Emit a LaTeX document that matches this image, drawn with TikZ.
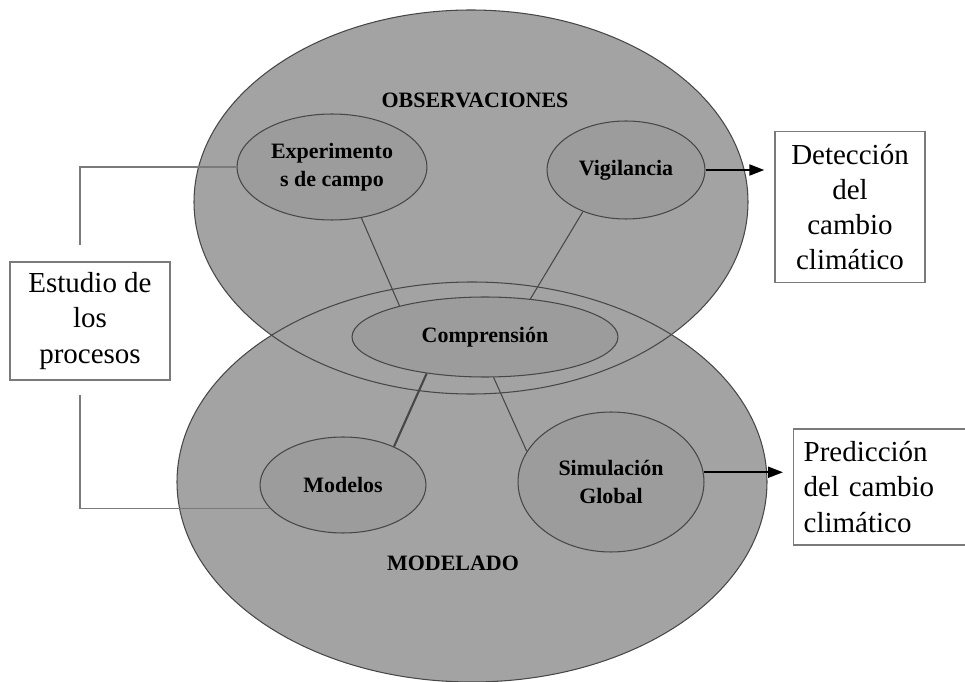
\documentclass[tikz,border=0pt]{standalone}
\usepackage{fontspec}
\setmainfont{Liberation Serif}
\usepackage{xcolor}
\usetikzlibrary{positioning, shapes.geometric, arrows.meta}

\definecolor{areagray}{HTML}{A3A3A3}
\definecolor{bubblegray}{HTML}{9C9C9C}
\definecolor{edgegray}{HTML}{474747}
\definecolor{boxgray}{HTML}{7A7A7A}

\tikzset{
    bubble/.style={ellipse, draw=edgegray, fill=bubblegray, line width=0.6pt, inner sep=0pt,
        align=center, font=\fontsize{12.5}{16}\selectfont\bfseries},
    title/.style={font=\fontsize{12.5}{16}\selectfont\bfseries},
    textbox/.style={draw=boxgray, line width=0.8pt, fill=white, inner sep=0pt,
        font=\fontsize{16.5}{20}\selectfont},
    link/.style={draw=edgegray, line width=0.6pt},
    bracket/.style={draw=boxgray, line width=0.8pt},
    arr/.style={-{Triangle[length=0.3cm,width=0.22cm]}, line width=1.2pt, shorten >=0.2cm}
}

\begin{document}
\begin{tikzpicture}[x=0.02cm, y=-0.02cm]
    \clip (0,0) rectangle (965,682);
    % the two big areas, their overlap makes the ring
    \fill[areagray] (471,202) ellipse [x radius=277, y radius=192];
    \fill[areagray] (472,482) ellipse [x radius=295, y radius=200];
    \draw[edgegray, line width=0.6pt] (471,202) ellipse [x radius=277, y radius=192];
    \draw[edgegray, line width=0.6pt] (472,482) ellipse [x radius=295, y radius=200];
    \node[title] (obsl) at (475,100) {OBSERVACIONES};
    \node[title] (modl) at (453,563) {MODELADO};
    % inner bubbles
    \node[bubble, minimum width=3.8cm, minimum height=2.12cm] (exp) at (332,167) {Experimento\\s de campo};
    \node[bubble, minimum width=3.16cm, minimum height=1.96cm] (vig) at (626,170) {Vigilancia};
    \node[bubble, minimum width=5.32cm, minimum height=1.6cm] (comp) at (485,337) {Comprensión};
    \node[bubble, minimum width=3.32cm, minimum height=1.92cm] (mod) at (343,485) {Modelos};
    \node[bubble, minimum width=3.72cm, minimum height=2.8cm] (sim) at (611,482) {Simulación\\Global};
    \draw[link] (exp.300) -- (comp.160);
    \draw[link] (vig.224) -- (comp.40);
    \draw[link, line width=1.2pt] (comp.212) -- (mod.37);
    \draw[link] (comp.282) -- (sim.160);
    % boxes
    \node[textbox, align=center, minimum width=3.2cm, minimum height=2.36cm] (proc) at (90,321) {Estudio de\\los\\procesos};
    \node[textbox, align=center, minimum width=3cm, minimum height=3.02cm] (det) at (850,207) {Detección\\del\\cambio\\climático};
    \node[textbox, anchor=west, align=left, text width=3.1cm, inner sep=0.2cm, minimum height=2.32cm] (pred) at (793,487) {Predicción\\del cambio\\climático};
    \coordinate (bt) at (80,245);
    \coordinate (bb) at (80,395);
    \draw[bracket] (bt) |- (exp.west);
    \draw[bracket] (bb) |- (mod.198);
    \draw[arr] (vig.east) -- (vig.east -| det.west);
    \draw[arr] (sim.6) -- (sim.6 -| pred.west);
\end{tikzpicture}
\end{document}
